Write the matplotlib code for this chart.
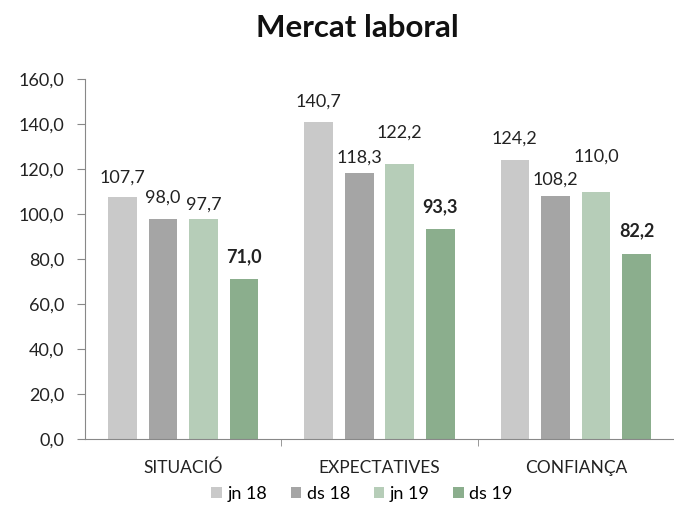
import numpy as np
import matplotlib.pyplot as plt

plt.rcParams['font.family'] = ['Lato', 'DejaVu Sans']

categories = ['SITUACIÓ', 'EXPECTATIVES', 'CONFIANÇA']
series_names = ['jn 18', 'ds 18', 'jn 19', 'ds 19']
jn18 = [107.7, 140.7, 124.2]
ds18 = [98.0, 118.3, 108.2]
jn19 = [97.7, 122.2, 110.0]
ds19 = [71.0, 93.3, 82.2]
yticks = [0, 20, 40, 60, 80, 100, 120, 140, 160]

colors = ['#c9c9c9', '#a5a5a5', '#b6cdb8', '#8bae8d']
# label lift above each bar (points), follows the Excel placement
label_lift = [[8, 9, 9.5], [9, 5, 6], [5, 17, 19], [10, 10, 11]]

def fmt(v):
    return f'{v:.1f}'.replace('.', ',')

fig = plt.figure(figsize=(6.74, 5.28), dpi=100)
ax = fig.add_axes([85 / 674, 1 - 439 / 528, 1 - 85 / 674, 360 / 528])

x = np.arange(len(categories))
pitch = 0.207
width = 0.146
all_series = [jn18, ds18, jn19, ds19]
for i, (vals, name) in enumerate(zip(all_series, series_names)):
    pos = x + (i - 1.5) * pitch
    bars = ax.bar(pos, vals, width, color=colors[i], label=name)
    for j, (b, v) in enumerate(zip(bars, vals)):
        ax.annotate(fmt(v), (b.get_x() + b.get_width() / 2, v),
                    xytext=(0, label_lift[i][j]), textcoords='offset points',
                    ha='center', va='bottom', fontsize=13, color='#222222',
                    fontweight='bold' if i == 3 else 'normal')

ax.set_xlim(-0.5, 2.5)
ax.set_ylim(0, 160)
ax.set_yticks(yticks)
ax.set_yticklabels([fmt(t) for t in yticks], fontsize=13, color='#222222')
ax.set_xticks(x)
ax.set_xticklabels(categories, fontsize=12.5, color='#222222')
ax.set_xticks([0.5, 1.5], minor=True)
ax.tick_params(axis='x', which='major', length=0, pad=15)
ax.tick_params(axis='x', which='minor', length=5, color='#888888', direction='out')
ax.tick_params(axis='y', length=6, color='#888888', pad=9)
for s in ['top', 'right']:
    ax.spines[s].set_visible(False)
ax.spines['left'].set_color('#888888')
ax.spines['bottom'].set_color('#888888')

fig.text(357 / 674, 1 - 37 / 528, 'Mercat laboral', ha='center', va='baseline',
         fontsize=22.5, fontweight='bold', color='#111111')

fig.legend(loc='center', bbox_to_anchor=(362 / 674, 1 - 494 / 528), ncol=4,
           frameon=False, fontsize=13, handlelength=0.6, handleheight=0.6,
           handletextpad=0.3, columnspacing=1.3)

fig.savefig('out.png', dpi=100)
